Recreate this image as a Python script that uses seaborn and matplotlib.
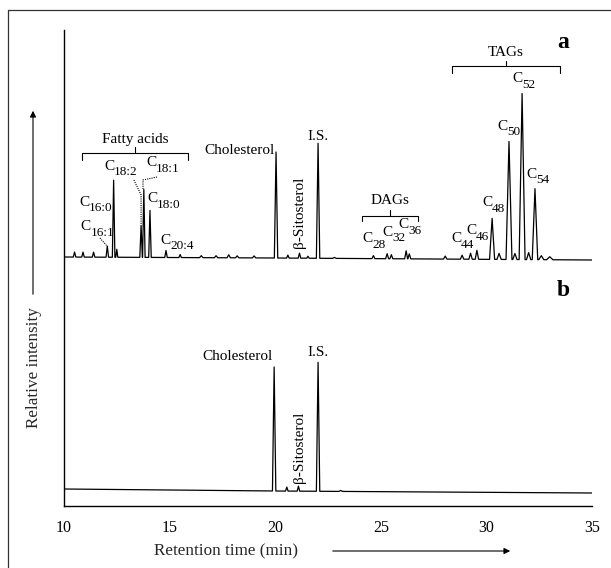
import numpy as np
import pandas as pd
import matplotlib
matplotlib.use("Agg")
import matplotlib.pyplot as plt
import matplotlib.patches as mpatches
import seaborn as sns
from matplotlib.lines import Line2D

# ---------------- data (retention time in min, intensity in arbitrary units) -------------
a_peak_times = [10.50, 10.90, 11.40, 12.05, 12.35, 12.50, 13.65, 13.78, 14.07, 14.83, 15.50,
                16.50, 17.20, 17.80, 18.20, 19.00, 20.04, 20.60, 21.15, 21.55, 22.03, 22.80,
                24.65, 25.30, 25.50, 26.20, 26.35, 28.05, 28.85, 29.25, 29.55, 30.27, 30.60,
                31.07, 31.35, 31.69, 32.00, 32.30, 32.60, 33.00]
a_peak_heights = [5, 5, 5, 11, 77, 8, 32, 68, 47, 7, 3,
                  2, 2, 3, 2, 2, 106, 3, 5, 2, 115, 1,
                  3, 5, 4, 8, 5, 3, 4, 6, 9, 41, 6,
                  118, 6, 166, 7, 71, 4, 3]
a_peak_widths = [0.06, 0.06, 0.06, 0.06, 0.06, 0.05, 0.06, 0.06, 0.06, 0.06, 0.06,
                 0.08, 0.08, 0.08, 0.08, 0.08, 0.08, 0.06, 0.06, 0.06, 0.08, 0.08,
                 0.07, 0.07, 0.07, 0.07, 0.07, 0.08, 0.08, 0.08, 0.08, 0.12, 0.10,
                 0.14, 0.10, 0.14, 0.10, 0.13, 0.12, 0.15]
a_base_times = [10.0, 20.0, 35.0]
a_base_levels = [249, 248, 246]

b_peak_times = [19.95, 20.55, 21.10, 22.03, 23.10]
b_peak_heights = [124, 4, 5, 129, 1]
b_peak_widths = [0.08, 0.06, 0.06, 0.08, 0.08]
b_base_times = [10.0, 20.0, 35.0]
b_base_levels = [17, 15, 13]

x_ticks = [10, 15, 20, 25, 30, 35]

# peak labels: (left edge time, level, subscript)
a_fa_labels = [(10.71, 304, "16:0"), (10.76, 279, "16:1"), (11.89, 340, "18:2"),
               (13.88, 343, "18:1"), (13.93, 307, "18:0"), (14.55, 266, "20:4")]
a_dag_labels = [(24.11, 267, "28"), (25.06, 274, "32"), (25.81, 281, "36")]
a_tag_labels = [(28.32, 267, "44"), (29.03, 275, "46"), (29.79, 303, "48"),
                (30.50, 380, "50"), (31.21, 427, "52"), (31.88, 332, "54")]


def build_trace(name, ptimes, pheights, pwidths, btimes, blevels):
    grid = np.arange(10.0, 35.0001, 0.01)
    extra = []
    for t, w in zip(ptimes, pwidths):
        extra += [t - w, t, t + w]
    grid = np.union1d(grid, np.round(extra, 4))
    sig = np.interp(grid, btimes, blevels)
    for t, h, w in zip(ptimes, pheights, pwidths):
        sig = sig + np.interp(grid, [t - w, t, t + w], [0, h, 0], left=0, right=0)
    return pd.DataFrame({"time": grid, "signal": sig, "trace": name})


df = pd.concat([
    build_trace("a", a_peak_times, a_peak_heights, a_peak_widths, a_base_times, a_base_levels),
    build_trace("b", b_peak_times, b_peak_heights, b_peak_widths, b_base_times, b_base_levels),
], ignore_index=True)

# ---------------- style ----------------
sns.set_theme(style="white")
plt.rcParams["font.family"] = ["Liberation Serif", "DejaVu Serif"]

W, H = 611, 568
fig = plt.figure(figsize=(W / 100, H / 100), dpi=100)
ax = fig.add_axes([64 / W, 62 / H, 528 / W, 476 / H])

sns.lineplot(data=df, x="time", y="signal", units="trace", estimator=None,
             color="black", lw=0.9, ax=ax)

ax.set_xlim(10, 35)
ax.set_ylim(0, 476)
ax.set_xticks(x_ticks)
ax.set_xticklabels([str(v) for v in x_ticks], fontsize=11.5)
ax.set_yticks([])
ax.set_xlabel("")
ax.set_ylabel("")
for s in ["top", "right"]:
    ax.spines[s].set_visible(False)
for s in ["left", "bottom"]:
    ax.spines[s].set_color("black")
    ax.spines[s].set_linewidth(1.0)
ax.tick_params(axis="x", direction="in", length=5, width=0.9, colors="black", pad=10)

FS = 11
def lab(x, y, s, **kw):
    kw.setdefault("ha", "center")
    kw.setdefault("va", "center")
    kw.setdefault("fontsize", FS)
    ax.text(x, y, s, color="black", **kw)

def clab(x, y, sub):
    ax.annotate("C", xy=(x, y), ha="left", va="center", fontsize=FS, color="black")
    ax.annotate(sub, xy=(x, y), xytext=(7.4, -4.0), textcoords="offset points",
                ha="left", va="center", fontsize=9.5, color="black")

def bracket(x0, x1, y, drop=7, rise=6):
    ax.plot([x0, x0, x1, x1], [y - drop, y, y, y - drop], color="black", lw=0.8)
    xm = (x0 + x1) / 2
    ax.plot([xm, xm], [y, y + rise], color="black", lw=0.8)

# ---- trace a annotations ----
lab(13.36, 367, "Fatty acids")
bracket(10.85, 15.87, 353)
for x, y, s in a_fa_labels:
    clab(x, y, s)
ax.plot([11.70, 12.08], [268, 259], color="black", lw=0.8, ls=(0, (1, 1)))
ax.plot([13.31, 13.65, 13.65], [326, 311, 281], color="black", lw=0.8, ls=(0, (1, 1)))
ax.plot([14.40, 13.74, 13.74], [329, 326, 317], color="black", lw=0.8, ls=(0, (1, 1)))

lab(19.95, 356, "Cholesterol", ha="right")
lab(22.03, 370, "I.S.")
lab(21.13, 258, "β-Sitosterol", rotation=90, va="bottom")

lab(25.44, 306, "DAGs")
bracket(24.11, 26.76, 290, drop=5, rise=6)
for x, y, s in a_dag_labels:
    clab(x, y, s)

lab(30.93, 454, "TAGs")
bracket(28.37, 33.48, 440, drop=7, rise=5)
for x, y, s in a_tag_labels:
    clab(x, y, s)

lab(33.63, 464, "a", fontsize=17, fontweight="bold")

# ---- trace b annotations ----
lab(19.88, 150, "Cholesterol", ha="right")
lab(22.03, 154, "I.S.")
lab(21.13, 23, "β-Sitosterol", rotation=90, va="bottom")
lab(33.63, 216, "b", fontsize=17, fontweight="bold")

# ---- axis titles with arrows (figure coordinates) ----
def fx(px):
    return px / W
def fy(py):
    return 1 - py / H

fig.text(fx(226), fy(551), "Retention time (min)", ha="center", va="center", fontsize=12.3)
fig.add_artist(mpatches.FancyArrowPatch((fx(330), fy(551)), (fx(513), fy(551)),
               transform=fig.transFigure, arrowstyle="-|>", mutation_scale=9,
               color="black", lw=0.8))
fig.text(fx(34), fy(368), "Relative intensity", ha="center", va="center",
         rotation=90, fontsize=12.3)
fig.add_artist(mpatches.FancyArrowPatch((fx(33), fy(297)), (fx(33), fy(108)),
               transform=fig.transFigure, arrowstyle="-|>", mutation_scale=9,
               color="black", lw=0.8))

# ---- outer frame ----
fig.add_artist(Line2D([fx(8), fx(611)], [fy(10), fy(10)], transform=fig.transFigure,
                      color="#333333", lw=0.9))
fig.add_artist(Line2D([fx(8), fx(8)], [fy(10), fy(568)], transform=fig.transFigure,
                      color="#333333", lw=0.9))

fig.savefig("out.png", dpi=100)
